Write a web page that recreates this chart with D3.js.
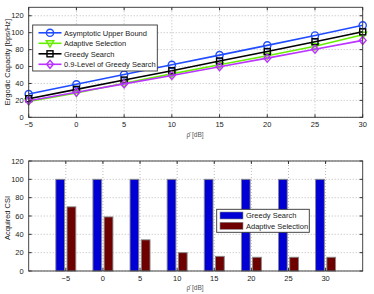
<!DOCTYPE html>
<html>
<head>
<meta charset="utf-8">
<script src="https://cdn.jsdelivr.net/npm/d3@7"></script>
<style>
  body { margin: 0; background: #fff; }
  text { font-family: "Liberation Sans", Arial, sans-serif; fill: #222; }
  .grid line { stroke: #bbb; stroke-dasharray: 1,2; }
</style>
</head>
<body>
<svg id="fig" width="374" height="294"></svg>
<script>
// ---- data ----
const snr = [-5, 0, 5, 10, 15, 20, 25, 30];
const upperBound = [27.5, 39, 50.5, 62, 73.5, 85, 96.7, 108.7];
const adaptive = [18.8, 28.8, 40.3, 51.3, 62, 72.8, 84, 97.5];
const greedy = [22, 33, 44, 55, 66.5, 77.7, 89.3, 101];
const greedy09 = [19.6, 29.6, 39.5, 49.5, 59.8, 69.9, 80.4, 90.9];
const capYTicks = [0, 20, 40, 60, 80, 100, 120];

const csiGreedy = [100, 100, 100, 100, 100, 100, 100, 100];
const csiAdaptive = [70, 59, 34, 20, 16, 15, 15, 15];
const csiYTicks = [0, 20, 40, 60, 80, 100, 120];

const lineSeries = [
  { name: "Asymptotic Upper Bound", values: upperBound, color: "#1f4cff", marker: "circle" },
  { name: "Adaptive Selection", values: adaptive, color: "#66ee00", marker: "tri" },
  { name: "Greedy Search", values: greedy, color: "#000000", marker: "square" },
  { name: "0.9-Level of Greedy Search", values: greedy09, color: "#bb33ff", marker: "diamond" }
];
const barSeries = [
  { name: "Greedy Search", values: csiGreedy, color: "#0000d4" },
  { name: "Adaptive Selection", values: csiAdaptive, color: "#6e0000" }
];

const svg = d3.select("#fig");
const left = 28.7, right = 362.7;

// marker drawing helper
function drawMarker(g, type, x, y, color) {
  const s = 3.6;
  if (type === "circle") {
    g.append("circle").attr("cx", x).attr("cy", y).attr("r", s)
      .attr("fill", "none").attr("stroke", color).attr("stroke-width", 1.4);
  } else if (type === "square") {
    g.append("rect").attr("x", x - 3).attr("y", y - 3).attr("width", 6).attr("height", 6)
      .attr("fill", "none").attr("stroke", color).attr("stroke-width", 1.4);
  } else if (type === "tri") {
    g.append("path").attr("d", `M${x - 3.8},${y - 2.5}L${x + 3.8},${y - 2.5}L${x},${y + 3.8}Z`)
      .attr("fill", "none").attr("stroke", color).attr("stroke-width", 1.4);
  } else {
    g.append("path").attr("d", `M${x},${y - 4}L${x + 3.4},${y}L${x},${y + 4}L${x - 3.4},${y}Z`)
      .attr("fill", "none").attr("stroke", color).attr("stroke-width", 1.4);
  }
}

function frame(g, x, y, xTicks, yTicks) {
  const [x0, x1] = x.range();
  const [y0, y1] = y.range();
  const grid = g.append("g").attr("class", "grid");
  grid.selectAll(".gx").data(xTicks).join("line")
    .attr("x1", d => x(d)).attr("x2", d => x(d)).attr("y1", y0).attr("y2", y1);
  grid.selectAll(".gy").data(yTicks).join("line")
    .attr("x1", x0).attr("x2", x1).attr("y1", d => y(d)).attr("y2", d => y(d));
}

function box(g, x, y, xTicks, yTicks) {
  const [x0, x1] = x.range();
  const [y0, y1] = y.range();
  g.append("rect").attr("x", x0).attr("y", y1).attr("width", x1 - x0).attr("height", y0 - y1)
    .attr("fill", "none").attr("stroke", "#333").attr("stroke-width", 0.9);
  const tl = 3;
  xTicks.forEach(t => {
    g.append("line").attr("x1", x(t)).attr("x2", x(t)).attr("y1", y0).attr("y2", y0 - tl).attr("stroke", "#333");
    g.append("line").attr("x1", x(t)).attr("x2", x(t)).attr("y1", y1).attr("y2", y1 + tl).attr("stroke", "#333");
    g.append("text").attr("x", x(t)).attr("y", y0 + 10).attr("text-anchor", "middle")
      .attr("font-size", 7.5).text(d3.format("")(t));
  });
  yTicks.forEach(t => {
    g.append("line").attr("x1", x0).attr("x2", x0 + tl).attr("y1", y(t)).attr("y2", y(t)).attr("stroke", "#333");
    g.append("line").attr("x1", x1).attr("x2", x1 - tl).attr("y1", y(t)).attr("y2", y(t)).attr("stroke", "#333");
    g.append("text").attr("x", x0 - 5).attr("y", y(t) + 2.7).attr("text-anchor", "end")
      .attr("font-size", 7.5).text(t);
  });
}

// =========================
// TOP: ergodic capacity
// =========================
const xTop = d3.scaleLinear().domain([-5, 30]).range([left, right]);
const yTop = d3.scaleLinear().domain([0, 130]).range([117.3, 7.3]);
const capPanel = svg.append("g");
frame(capPanel, xTop, yTop, snr, capYTicks);

const line = d3.line().x((d, i) => xTop(snr[i])).y(d => yTop(d));
lineSeries.forEach(s => {
  capPanel.append("path").datum(s.values).attr("d", line)
    .attr("fill", "none").attr("stroke", s.color).attr("stroke-width", 1.6);
  s.values.forEach((v, i) => drawMarker(capPanel, s.marker, xTop(snr[i]), yTop(v), s.color));
});
box(capPanel, xTop, yTop, snr, capYTicks);

capPanel.append("text").attr("transform", "translate(10,62) rotate(-90)")
  .attr("text-anchor", "middle").attr("font-size", 7.5).text("Ergodic Capacity [bps/Hz]");
capPanel.append("text").attr("x", 195).attr("y", 137).attr("text-anchor", "middle")
  .attr("font-family", "DejaVu Serif, serif").attr("font-size", 6.5).style("fill", "#555").text("ρ̄ [dB]");

// legend top
const lgTop = capPanel.append("g");
lgTop.append("rect").attr("x", 32.7).attr("y", 25).attr("width", 124.6).attr("height", 46)
  .attr("fill", "#fff").attr("stroke", "#333").attr("stroke-width", 0.9);
lineSeries.forEach((s, i) => {
  const yy = 32.8 + i * 10.5;
  lgTop.append("line").attr("x1", 38.5).attr("x2", 61.5).attr("y1", yy).attr("y2", yy)
    .attr("stroke", s.color).attr("stroke-width", 1.6);
  drawMarker(lgTop, s.marker, 50, yy, s.color);
  lgTop.append("text").attr("x", 64).attr("y", yy + 2.7).attr("font-size", 7.5).text(s.name);
});

// =========================
// BOTTOM: acquired CSI
// =========================
const xBot = d3.scaleLinear().domain([-10, 35]).range([left, right]);
const yBot = d3.scaleLinear().domain([0, 120]).range([271, 161]);
const inner = d3.scaleBand().domain(barSeries.map(s => s.name)).range([-10, 10]).paddingInner(0.22);
const csiPanel = svg.append("g");
frame(csiPanel, xBot, yBot, snr, csiYTicks);

barSeries.forEach(s => {
  csiPanel.selectAll(null).data(s.values).join("rect")
    .attr("x", (d, i) => xBot(snr[i]) + inner(s.name))
    .attr("y", d => yBot(d))
    .attr("width", inner.bandwidth())
    .attr("height", d => yBot(0) - yBot(d))
    .attr("fill", s.color).attr("stroke", "#888").attr("stroke-width", 0.9);
});
box(csiPanel, xBot, yBot, snr, csiYTicks);

csiPanel.append("text").attr("transform", "translate(10,218) rotate(-90)")
  .attr("text-anchor", "middle").attr("font-size", 7.5).text("Acquired CSI");
csiPanel.append("text").attr("x", 195).attr("y", 290).attr("text-anchor", "middle")
  .attr("font-family", "DejaVu Serif, serif").attr("font-size", 6.5).style("fill", "#555").text("ρ̄ [dB]");

const lgBot = csiPanel.append("g");
lgBot.append("rect").attr("x", 216.7).attr("y", 209.3).attr("width", 92.6).attr("height", 23)
  .attr("fill", "#fff").attr("stroke", "#333").attr("stroke-width", 0.9);
barSeries.forEach((s, i) => {
  const yy = 215.5 + i * 10.3;
  lgBot.append("rect").attr("x", 220).attr("y", yy - 3.5).attr("width", 23).attr("height", 7)
    .attr("fill", s.color).attr("stroke", "#888").attr("stroke-width", 0.6);
  lgBot.append("text").attr("x", 246).attr("y", yy + 2.7).attr("font-size", 7.5).text(s.name);
});
</script>
</body>
</html>
